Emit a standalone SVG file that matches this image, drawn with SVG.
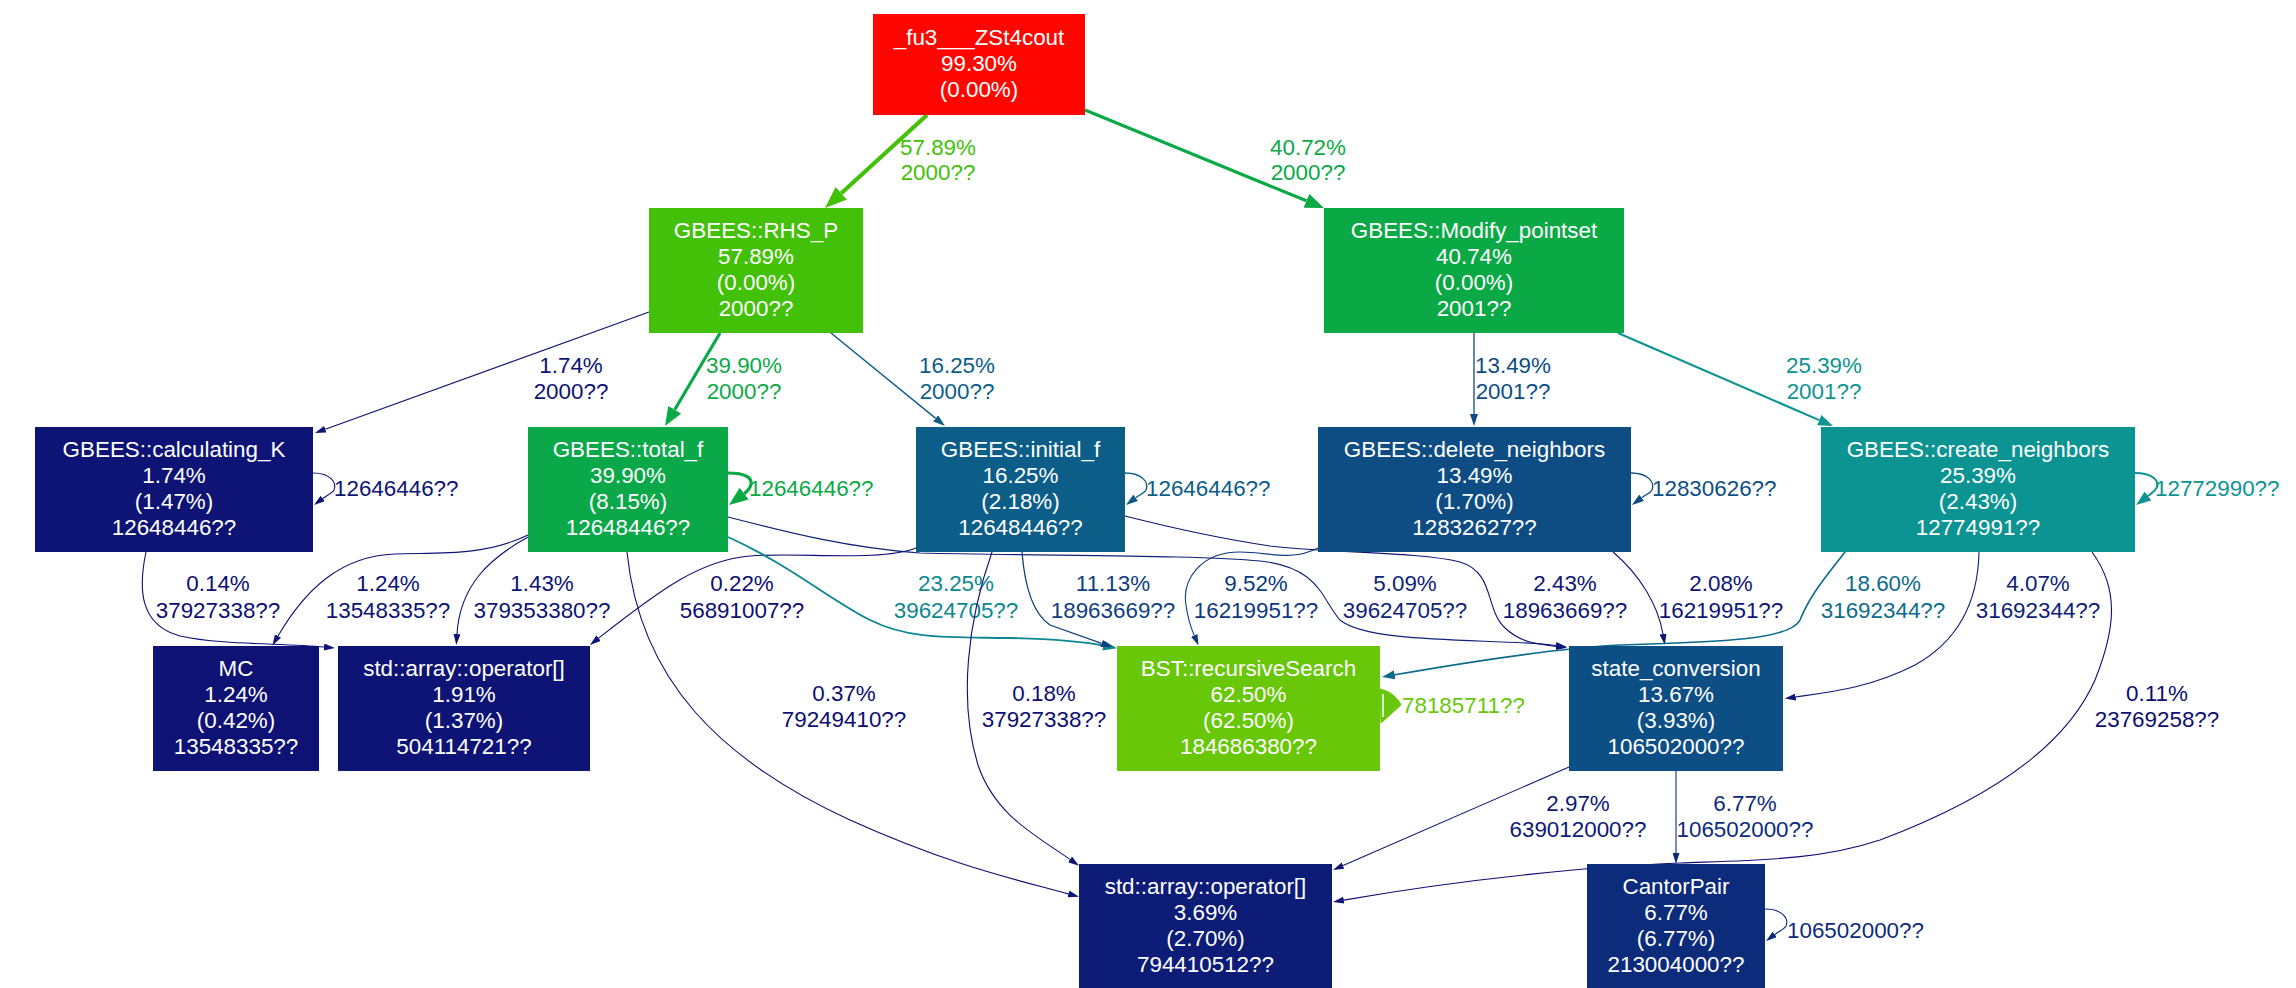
<svg xmlns="http://www.w3.org/2000/svg" width="2296" height="988" viewBox="0 0 2296 988">
<style>
text{font-family:"Liberation Sans",Arial,Helvetica,sans-serif;font-size:22.4px}
.node text{fill:#fff;text-anchor:middle}
.edge text{text-anchor:middle}
.edge text.ll{text-anchor:start}
.edge path{fill:none;stroke-width:1.1}
.w13 path{stroke-width:1.3}.w14 path{stroke-width:1.4}.w16 path{stroke-width:1.6}.w19 path{stroke-width:1.9}.w2 path{stroke-width:2.1}.w29 path{stroke-width:3.2}.w36 path{stroke-width:4.2}
.c-lime path{stroke:#43C108}.c-lime text{fill:#43C108}
.c-green path{stroke:#0BA946}.c-green text{fill:#0BA946}
.c-t25 path{stroke:#0C9492}.c-t25 text{fill:#0C9492}
.c-t23 path{stroke:#0C8891}.c-t23 text{fill:#0C8891}
.c-t18 path{stroke:#0C6B8B}.c-t18 text{fill:#0C6B8B}
.c-b16 path{stroke:#0C5D88}.c-b16 text{fill:#0C5D88}
.c-b13 path{stroke:#0D4D84}.c-b13 text{fill:#0D4D84}
.c-b11 path{stroke:#0D4081}.c-b11 text{fill:#0D4081}
.c-b9 path{stroke:#0D387F}.c-b9 text{fill:#0D387F}
.c-b6 path{stroke:#0D2B7B}.c-b6 text{fill:#0D2B7B}
.c-n5 path{stroke:#0D2379}.c-n5 text{fill:#0D2379}
.c-n4 path{stroke:#0D1E78}.c-n4 text{fill:#0D1E78}
.c-n3 path{stroke:#0D1977}.c-n3 text{fill:#0D1977}
.c-n2 path{stroke:#0D1676}.c-n2 text{fill:#0D1676}
.c-n1 path{stroke:#0D1375}.c-n1 text{fill:#0D1375}
.c-n0 path{stroke:#0D0E73}.c-n0 text{fill:#0D0E73}
.c-bst text{fill:#68C708}
.c-bst path.blob{fill:#68C708;stroke:#68C708;stroke-width:1}
.c-bst path.gap{stroke:#ffffff;stroke-width:1.5}
</style>
<defs>
<marker id="a-lime" viewBox="0 0 10 10" refX="0" refY="5" markerWidth="22" markerHeight="17" markerUnits="userSpaceOnUse" orient="auto" preserveAspectRatio="none"><path d="M0,0L10,5L0,10Z" fill="#43C108"/></marker>
<marker id="a-green" viewBox="0 0 10 10" refX="0" refY="5" markerWidth="19" markerHeight="15" markerUnits="userSpaceOnUse" orient="auto" preserveAspectRatio="none"><path d="M0,0L10,5L0,10Z" fill="#0BA946"/></marker>
<marker id="a-t25" viewBox="0 0 10 10" refX="0" refY="5" markerWidth="15" markerHeight="11" markerUnits="userSpaceOnUse" orient="auto" preserveAspectRatio="none"><path d="M0,0L10,5L0,10Z" fill="#0C9492"/></marker>
<marker id="a-t23" viewBox="0 0 10 10" refX="0" refY="5" markerWidth="14" markerHeight="10" markerUnits="userSpaceOnUse" orient="auto" preserveAspectRatio="none"><path d="M0,0L10,5L0,10Z" fill="#0C8891"/></marker>
<marker id="a-t18" viewBox="0 0 10 10" refX="0" refY="5" markerWidth="13" markerHeight="9" markerUnits="userSpaceOnUse" orient="auto" preserveAspectRatio="none"><path d="M0,0L10,5L0,10Z" fill="#0C6B8B"/></marker>
<marker id="a-b16" viewBox="0 0 10 10" refX="0" refY="5" markerWidth="12" markerHeight="8" markerUnits="userSpaceOnUse" orient="auto" preserveAspectRatio="none"><path d="M0,0L10,5L0,10Z" fill="#0C5D88"/></marker>
<marker id="a-b13" viewBox="0 0 10 10" refX="0" refY="5" markerWidth="12" markerHeight="8" markerUnits="userSpaceOnUse" orient="auto" preserveAspectRatio="none"><path d="M0,0L10,5L0,10Z" fill="#0D4D84"/></marker>
<marker id="a-b11" viewBox="0 0 10 10" refX="0" refY="5" markerWidth="11" markerHeight="7.5" markerUnits="userSpaceOnUse" orient="auto" preserveAspectRatio="none"><path d="M0,0L10,5L0,10Z" fill="#0D4081"/></marker>
<marker id="a-b9" viewBox="0 0 10 10" refX="0" refY="5" markerWidth="11" markerHeight="7" markerUnits="userSpaceOnUse" orient="auto" preserveAspectRatio="none"><path d="M0,0L10,5L0,10Z" fill="#0D387F"/></marker>
<marker id="a-b6" viewBox="0 0 10 10" refX="0" refY="5" markerWidth="11" markerHeight="7" markerUnits="userSpaceOnUse" orient="auto" preserveAspectRatio="none"><path d="M0,0L10,5L0,10Z" fill="#0D2B7B"/></marker>
<marker id="a-n" viewBox="0 0 10 10" refX="0" refY="5" markerWidth="11" markerHeight="7" markerUnits="userSpaceOnUse" orient="auto" preserveAspectRatio="none"><path d="M0,0L10,5L0,10Z" fill="#0D1676"/></marker>
</defs>
<rect width="2296" height="988" fill="#fff"/>

<g id="connectors">
<g class="edge c-lime w36"><path d="M927,115 L841.3,193.2" marker-end="url(#a-lime)"/><text x="938" y="155">57.89%</text><text x="938" y="180">2000??</text></g>
<g class="edge c-green w29"><path d="M1085,110 L1306.4,200.8" marker-end="url(#a-green)"/><text x="1308" y="155">40.72%</text><text x="1308" y="180">2000??</text></g>
<g class="edge c-n1"><path d="M649,312 L325.3,429.2" marker-end="url(#a-n)"/><text x="571" y="373">1.74%</text><text x="571" y="399">2000??</text></g>
<g class="edge c-green w29"><path d="M720,333 L674.7,409.7" marker-end="url(#a-green)"/><text x="744" y="373">39.90%</text><text x="744" y="399">2000??</text></g>
<g class="edge c-b16 w14"><path d="M831,333 L935.7,418.4" marker-end="url(#a-b16)"/><text x="957" y="373">16.25%</text><text x="957" y="399">2000??</text></g>
<g class="edge c-b13 w13"><path d="M1474,333 L1474,414" marker-end="url(#a-b13)"/><text x="1513" y="373">13.49%</text><text x="1513" y="399">2001??</text></g>
<g class="edge c-t25 w2"><path d="M1618,333 L1819.2,420.1" marker-end="url(#a-t25)"/><text x="1824" y="373">25.39%</text><text x="1824" y="399">2001??</text></g>

<g class="edge c-n1"><path d="M313,473 C331,473 337,483 334,490 C332.5,493 326.8,495.4 322.8,498.4" marker-end="url(#a-n)"/><text class="ll" x="334" y="496">12646446??</text></g>
<g class="edge c-green w29"><path d="M728,473 C746,473 752,478 751,484 C750.5,487 748.2,490.6 744.2,493.6" marker-end="url(#a-green)"/><text class="ll" x="749" y="496">12646446??</text></g>
<g class="edge c-b16 w14"><path d="M1125,473 C1143,473 1149,483 1146,490 C1144.5,493 1139.6,494.8 1135.6,497.8" marker-end="url(#a-b16)"/><text class="ll" x="1146" y="496">12646446??</text></g>
<g class="edge c-b13 w13"><path d="M1631,473 C1649,473 1655,483 1652,490 C1650.5,493 1645.6,494.8 1641.6,497.8" marker-end="url(#a-b13)"/><text class="ll" x="1652" y="496">12830626??</text></g>
<g class="edge c-t25 w2"><path d="M2135,473 C2153,473 2159,481 2157,487 C2156,490 2152,493 2148,496" marker-end="url(#a-t25)"/><text class="ll" x="2155" y="496">12772990??</text></g>

<g class="edge c-n0"><path d="M146,552 C138,590 140,625 180,636 C220,645 280,643 324,647" marker-end="url(#a-n)"/><text x="218" y="591">0.14%</text><text x="218" y="618">37927338??</text></g>
<g class="edge c-n1"><path d="M528,535 C480,558 430,552 395,554 C340,556 305,590 278,636" marker-end="url(#a-n)"/><text x="388" y="591">1.24%</text><text x="388" y="618">13548335??</text></g>
<g class="edge c-n1"><path d="M528,537 C490,558 460,585 457,634" marker-end="url(#a-n)"/><text x="542" y="591">1.43%</text><text x="542" y="618">379353380??</text></g>
<g class="edge c-n0"><path d="M916,548 C880,562 800,552 750,556 C700,560 660,590 598.6,638.1" marker-end="url(#a-n)"/><text x="742" y="591">0.22%</text><text x="742" y="618">56891007??</text></g>
<g class="edge c-t23 w19"><path d="M728,537 C790,565 830,600 870,620 C910,640 950,637 1010,638 C1050,639 1080,641 1103.2,645.5" marker-end="url(#a-t23)"/><text x="956" y="591">23.25%</text><text x="956" y="618">39624705??</text></g>
<g class="edge c-b11 w13"><path d="M1022,552 C1025,590 1035,615 1050,625 L1101.6,643.4" marker-end="url(#a-b11)"/><text x="1113" y="591">11.13%</text><text x="1113" y="618">18963669??</text></g>
<g class="edge c-b9"><path d="M1318,548 C1290,562 1270,552 1240,552 C1200,552 1182,580 1186,605 C1188,620 1191,628 1194.2,635.4" marker-end="url(#a-b9)"/><text x="1256" y="591">9.52%</text><text x="1256" y="618">16219951??</text></g>
<g class="edge c-n5"><path d="M728,517 C790,533 850,548 920,553 C1050,556 1200,555 1260,561 C1320,567 1322,600 1340,620 C1370,645 1500,638 1556,645.5" marker-end="url(#a-n)"/><text x="1405" y="591">5.09%</text><text x="1405" y="618">39624705??</text></g>
<g class="edge c-n2"><path d="M1125,516 C1180,530 1230,540 1270,546 C1330,553 1420,552 1460,562 C1495,572 1485,610 1505,628 C1520,642 1535,644 1556,646.5" marker-end="url(#a-n)"/><text x="1565" y="591">2.43%</text><text x="1565" y="618">18963669??</text></g>
<g class="edge c-n2"><path d="M1613,552 C1640,575 1658,605 1663,634" marker-end="url(#a-n)"/><text x="1721" y="591">2.08%</text><text x="1721" y="618">16219951??</text></g>
<g class="edge c-t18 w16"><path d="M1845,552 C1825,578 1810,595 1800,620 C1790,640 1720,642 1620,645 C1560,648 1480,660 1394.8,674.8" marker-end="url(#a-t18)"/><text x="1883" y="591">18.60%</text><text x="1883" y="618">31692344??</text></g>
<g class="edge c-n4"><path d="M1979,552 C1978,600 1960,640 1915,665 C1870,688 1830,692 1795.7,697" marker-end="url(#a-n)"/><text x="2038" y="591">4.07%</text><text x="2038" y="618">31692344??</text></g>

<g class="edge c-n0"><path d="M627,552 C640,680 720,760 850,820 C950,865 1010,878 1068.4,893.9" marker-end="url(#a-n)"/><text x="844" y="701">0.37%</text><text x="844" y="727">79249410??</text></g>
<g class="edge c-n0"><path d="M992,552 C968,620 958,700 978,765 C995,815 1035,835 1070,859.4" marker-end="url(#a-n)"/><text x="1044" y="701">0.18%</text><text x="1044" y="727">37927338??</text></g>
<g class="edge c-n0"><path d="M2092,552 C2120,590 2115,630 2095,680 C2060,760 1960,810 1880,840 C1820,860 1760,860 1680,863 C1600,866 1470,878 1343.8,900.1" marker-end="url(#a-n)"/><text x="2157" y="701">0.11%</text><text x="2157" y="727">23769258??</text></g>
<g class="edge c-bst"><path class="blob" d="M1380,689 C1390,691 1398,698 1401,705 L1381,723 Z"/><path class="gap" d="M1383,694 L1383,717"/><text class="ll" x="1402" y="713">78185711??</text></g>

<g class="edge c-n3"><path d="M1569,767 L1343.1,865.6" marker-end="url(#a-n)"/><text x="1578" y="811">2.97%</text><text x="1578" y="837">639012000??</text></g>
<g class="edge c-b6"><path d="M1676,771 L1676,853" marker-end="url(#a-b6)"/><text x="1745" y="811">6.77%</text><text x="1745" y="837">106502000??</text></g>
<g class="edge c-b6"><path d="M1765,909 C1783,909 1789,919 1786,926 C1784.5,929 1778.8,931.4 1774.8,934.4" marker-end="url(#a-b6)"/><text class="ll" x="1787" y="938">106502000??</text></g>
</g>

<g id="node-main" class="node"><rect x="873" y="14" width="212" height="101" fill="#FF0700"/><text x="979" y="45">_fu3___ZSt4cout</text><text x="979" y="71">99.30%</text><text x="979" y="97">(0.00%)</text></g>
<g id="node-rhs" class="node"><rect x="649" y="208" width="214" height="125" fill="#43C108"/><text x="756" y="237.5">GBEES::RHS_P</text><text x="756" y="264">57.89%</text><text x="756" y="290">(0.00%)</text><text x="756" y="316">2000??</text></g>
<g id="node-modify" class="node"><rect x="1324" y="208" width="300" height="125" fill="#0BA946"/><text x="1474" y="237.5">GBEES::Modify_pointset</text><text x="1474" y="264">40.74%</text><text x="1474" y="290">(0.00%)</text><text x="1474" y="316">2001??</text></g>
<g id="node-calck" class="node"><rect x="35" y="427" width="278" height="125" fill="#0D1475"/><text x="174" y="456.5">GBEES::calculating_K</text><text x="174" y="483">1.74%</text><text x="174" y="509">(1.47%)</text><text x="174" y="535">12648446??</text></g>
<g id="node-totalf" class="node"><rect x="528" y="427" width="200" height="125" fill="#0BA84A"/><text x="628" y="456.5">GBEES::total_f</text><text x="628" y="483">39.90%</text><text x="628" y="509">(8.15%)</text><text x="628" y="535">12648446??</text></g>
<g id="node-initf" class="node"><rect x="916" y="427" width="209" height="125" fill="#0C5D88"/><text x="1020.5" y="456.5">GBEES::initial_f</text><text x="1020.5" y="483">16.25%</text><text x="1020.5" y="509">(2.18%)</text><text x="1020.5" y="535">12648446??</text></g>
<g id="node-delete" class="node"><rect x="1318" y="427" width="313" height="125" fill="#0D4D84"/><text x="1474.5" y="456.5">GBEES::delete_neighbors</text><text x="1474.5" y="483">13.49%</text><text x="1474.5" y="509">(1.70%)</text><text x="1474.5" y="535">12832627??</text></g>
<g id="node-create" class="node"><rect x="1821" y="427" width="314" height="125" fill="#0C9492"/><text x="1978" y="456.5">GBEES::create_neighbors</text><text x="1978" y="483">25.39%</text><text x="1978" y="509">(2.43%)</text><text x="1978" y="535">12774991??</text></g>
<g id="node-mc" class="node"><rect x="153" y="646" width="166" height="125" fill="#0D1274"/><text x="236" y="675.5">MC</text><text x="236" y="702">1.24%</text><text x="236" y="728">(0.42%)</text><text x="236" y="754">13548335??</text></g>
<g id="node-array1" class="node"><rect x="338" y="646" width="252" height="125" fill="#0D1475"/><text x="464" y="675.5">std::array::operator[]</text><text x="464" y="702">1.91%</text><text x="464" y="728">(1.37%)</text><text x="464" y="754">504114721??</text></g>
<g id="node-bst" class="node"><rect x="1117" y="646" width="263" height="125" fill="#68C708"/><text x="1248.5" y="675.5">BST::recursiveSearch</text><text x="1248.5" y="702">62.50%</text><text x="1248.5" y="728">(62.50%)</text><text x="1248.5" y="754">184686380??</text></g>
<g id="node-state" class="node"><rect x="1569" y="646" width="214" height="125" fill="#0D4E84"/><text x="1676" y="675.5">state_conversion</text><text x="1676" y="702">13.67%</text><text x="1676" y="728">(3.93%)</text><text x="1676" y="754">106502000??</text></g>
<g id="node-array2" class="node"><rect x="1079" y="864" width="253" height="125" fill="#0D1C77"/><text x="1205.5" y="893.5">std::array::operator[]</text><text x="1205.5" y="920">3.69%</text><text x="1205.5" y="946">(2.70%)</text><text x="1205.5" y="972">794410512??</text></g>
<g id="node-cantor" class="node"><rect x="1587" y="864" width="178" height="125" fill="#0D2B7B"/><text x="1676" y="893.5">CantorPair</text><text x="1676" y="920">6.77%</text><text x="1676" y="946">(6.77%)</text><text x="1676" y="972">213004000??</text></g>
</svg>
